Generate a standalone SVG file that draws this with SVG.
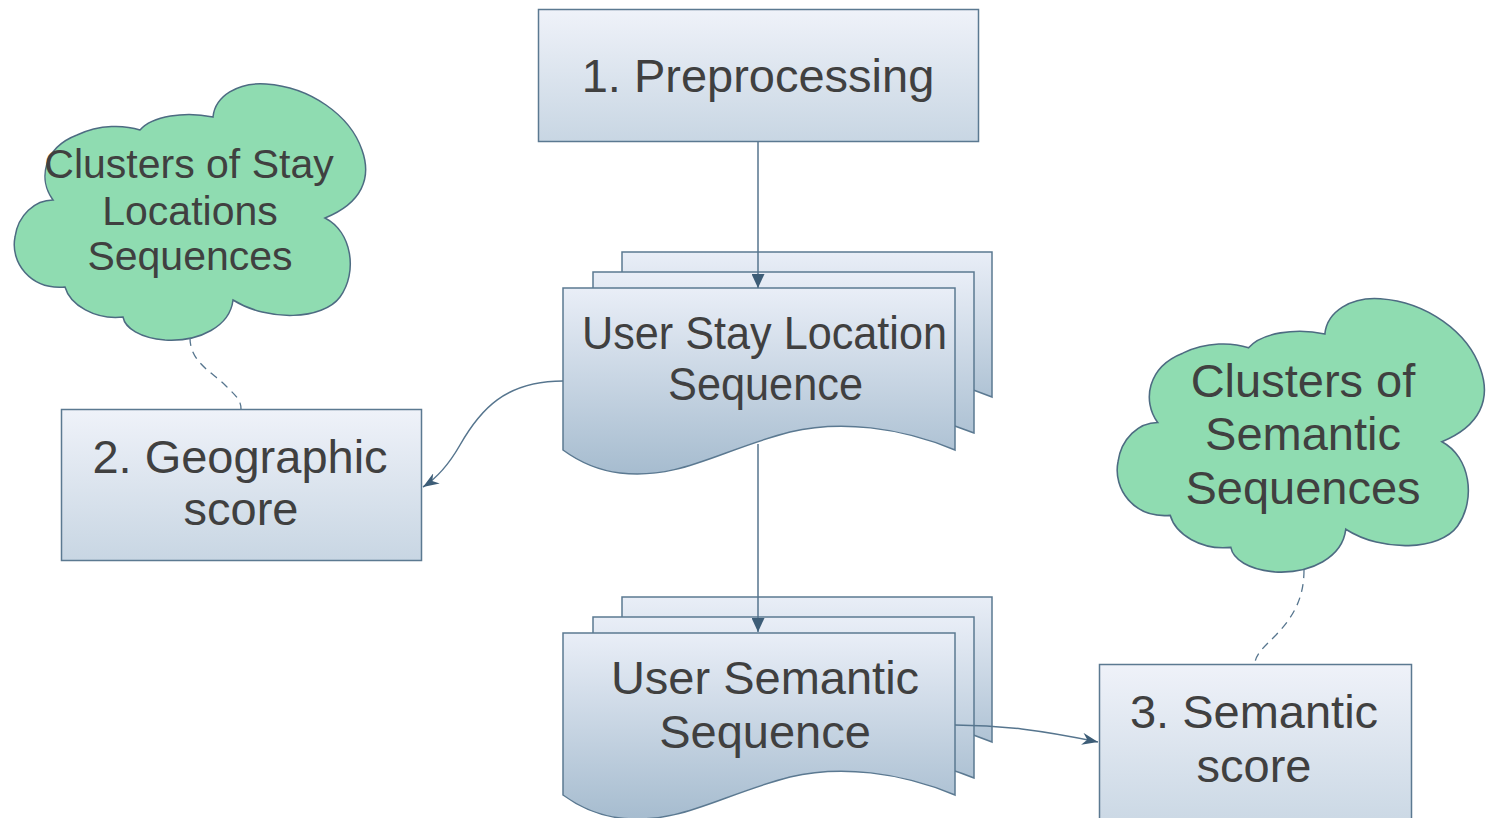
<svg xmlns="http://www.w3.org/2000/svg" xmlns:xlink="http://www.w3.org/1999/xlink" width="1486" height="818" viewBox="0 0 1486 818">
<style>
.box{stroke:#5b7991;stroke-width:1.5;fill:url(#gBox)}
.page{stroke:#5b7991;stroke-width:1.5;fill:url(#gPage)}
.cloud{fill:#8fdcb1;stroke:#4d6b82;stroke-width:1.5}
.t{font-family:"Liberation Sans",Arial,sans-serif;fill:#404040;text-anchor:middle}
.big{font-size:47px}
.small{font-size:41px}
.conn{fill:none;stroke:#56758e;stroke-width:1.5}
.dash{fill:none;stroke:#56758e;stroke-width:1.3;stroke-dasharray:8 6}
</style>
<defs>
<linearGradient id="gBox" x1="0" y1="0" x2="0" y2="1">
<stop offset="0" stop-color="#eff2f9"/>
<stop offset="1" stop-color="#c8d6e3"/>
</linearGradient>
<linearGradient id="gPage" x1="0" y1="0" x2="0" y2="1">
<stop offset="0" stop-color="#e9eef7"/>
<stop offset="1" stop-color="#a6bccf"/>
</linearGradient>
<marker id="tri" viewBox="0 0 14 13" refX="14" refY="6.5" markerWidth="14" markerHeight="13" markerUnits="userSpaceOnUse" orient="auto">
<path d="M0,0 L14,6.5 L0,13 Z" fill="#3d5d77"/>
</marker>
<marker id="notch" viewBox="0 0 16 12" refX="16" refY="6" markerWidth="16" markerHeight="12" markerUnits="userSpaceOnUse" orient="auto">
<path d="M0,0 L16,6 L0,12 L5,6 Z" fill="#3d5d77"/>
</marker>
<path id="cloudShape" d="M140,130 C152,116 185,111 213,117 C215,96 238,82 266,84 C310,87 350,115 362,150 C372,178 362,203 325,218 C352,232 358,272 340,297 C323,320 268,322 233,300 C230,326 200,342 165,340 C140,338 125,328 123,317 C95,320 70,305 65,287 C30,290 10,262 15,237 C18,215 35,200 53,200 C38,180 43,148 77,135 C100,124 125,125 140,130 Z"/>
<g id="stack">
<path class="page" d="M622,252 H992 V397 C940,375 880,370 830,380 C760,395 720,425 675,420 C650,417 635,408 622,398 Z"/>
<path class="page" d="M593,272 H974 V433 C920,411 860,406 810,416 C740,430 700,460 650,455 C625,452 606,444 593,434 Z"/>
<path class="page" d="M563,288 H955 V450 C900,427 840,420 790,432 C720,450 680,480 620,473 C595,470 578,461 563,450 Z"/>
</g>
</defs>
<rect width="1486" height="818" fill="#ffffff"/>

<g id="cloud-stay">
<use xlink:href="#cloudShape" class="cloud"/>
<text class="t small" x="189" y="178">Clusters of Stay</text>
<text class="t small" x="190" y="225">Locations</text>
<text class="t small" x="190" y="270">Sequences</text>
</g>

<g id="cloud-semantic">
<use xlink:href="#cloudShape" class="cloud" transform="translate(1102.3,209.1) scale(1.045,1.067)"/>
<text class="t big" x="1303" y="397">Clusters of</text>
<text class="t big" x="1303" y="450">Semantic</text>
<text class="t big" x="1303" y="504">Sequences</text>
</g>

<g id="preprocessing">
<rect class="box" x="538.5" y="9.5" width="440" height="132"/>
<text class="t big" x="758" y="92">1. Preprocessing</text>
</g>

<g id="geographic">
<rect class="box" x="61.5" y="409.5" width="360" height="151"/>
<text class="t big" x="240" y="473">2. Geographic</text>
<text class="t big" x="241" y="525">score</text>
</g>

<g id="semantic-score">
<rect class="box" x="1099.5" y="664.5" width="312" height="170"/>
<text class="t big" x="1254" y="728">3. Semantic</text>
<text class="t big" x="1254" y="782">score</text>
</g>

<g id="stay-sequence">
<use xlink:href="#stack"/>
<text class="t big" x="764.5" y="349" textLength="365" lengthAdjust="spacingAndGlyphs">User Stay Location</text>
<text class="t big" x="765.5" y="400" textLength="195" lengthAdjust="spacingAndGlyphs">Sequence</text>
</g>

<g id="semantic-sequence">
<use xlink:href="#stack" transform="translate(0,345)"/>
<text class="t big" x="765" y="694">User Semantic</text>
<text class="t big" x="765" y="748">Sequence</text>
</g>

<g id="connectors">
<path class="conn" d="M758,142 V288" marker-end="url(#tri)"/>
<path class="conn" d="M758,444 V632" marker-end="url(#tri)"/>
<path class="conn" d="M563,381 C505,381 480,410 460,445 C448,466 437,478 423,487" marker-end="url(#notch)"/>
<path class="conn" d="M955,725 C1000,725 1040,730 1098,742" marker-end="url(#notch)"/>
<path class="dash" d="M190,338 C190,362 212,372 226,386 C236,396 241,400 241,409"/>
<path class="dash" d="M1304,570 C1304,602 1290,620 1276,635 C1263,648 1255,655 1255,664"/>
</g>
</svg>
